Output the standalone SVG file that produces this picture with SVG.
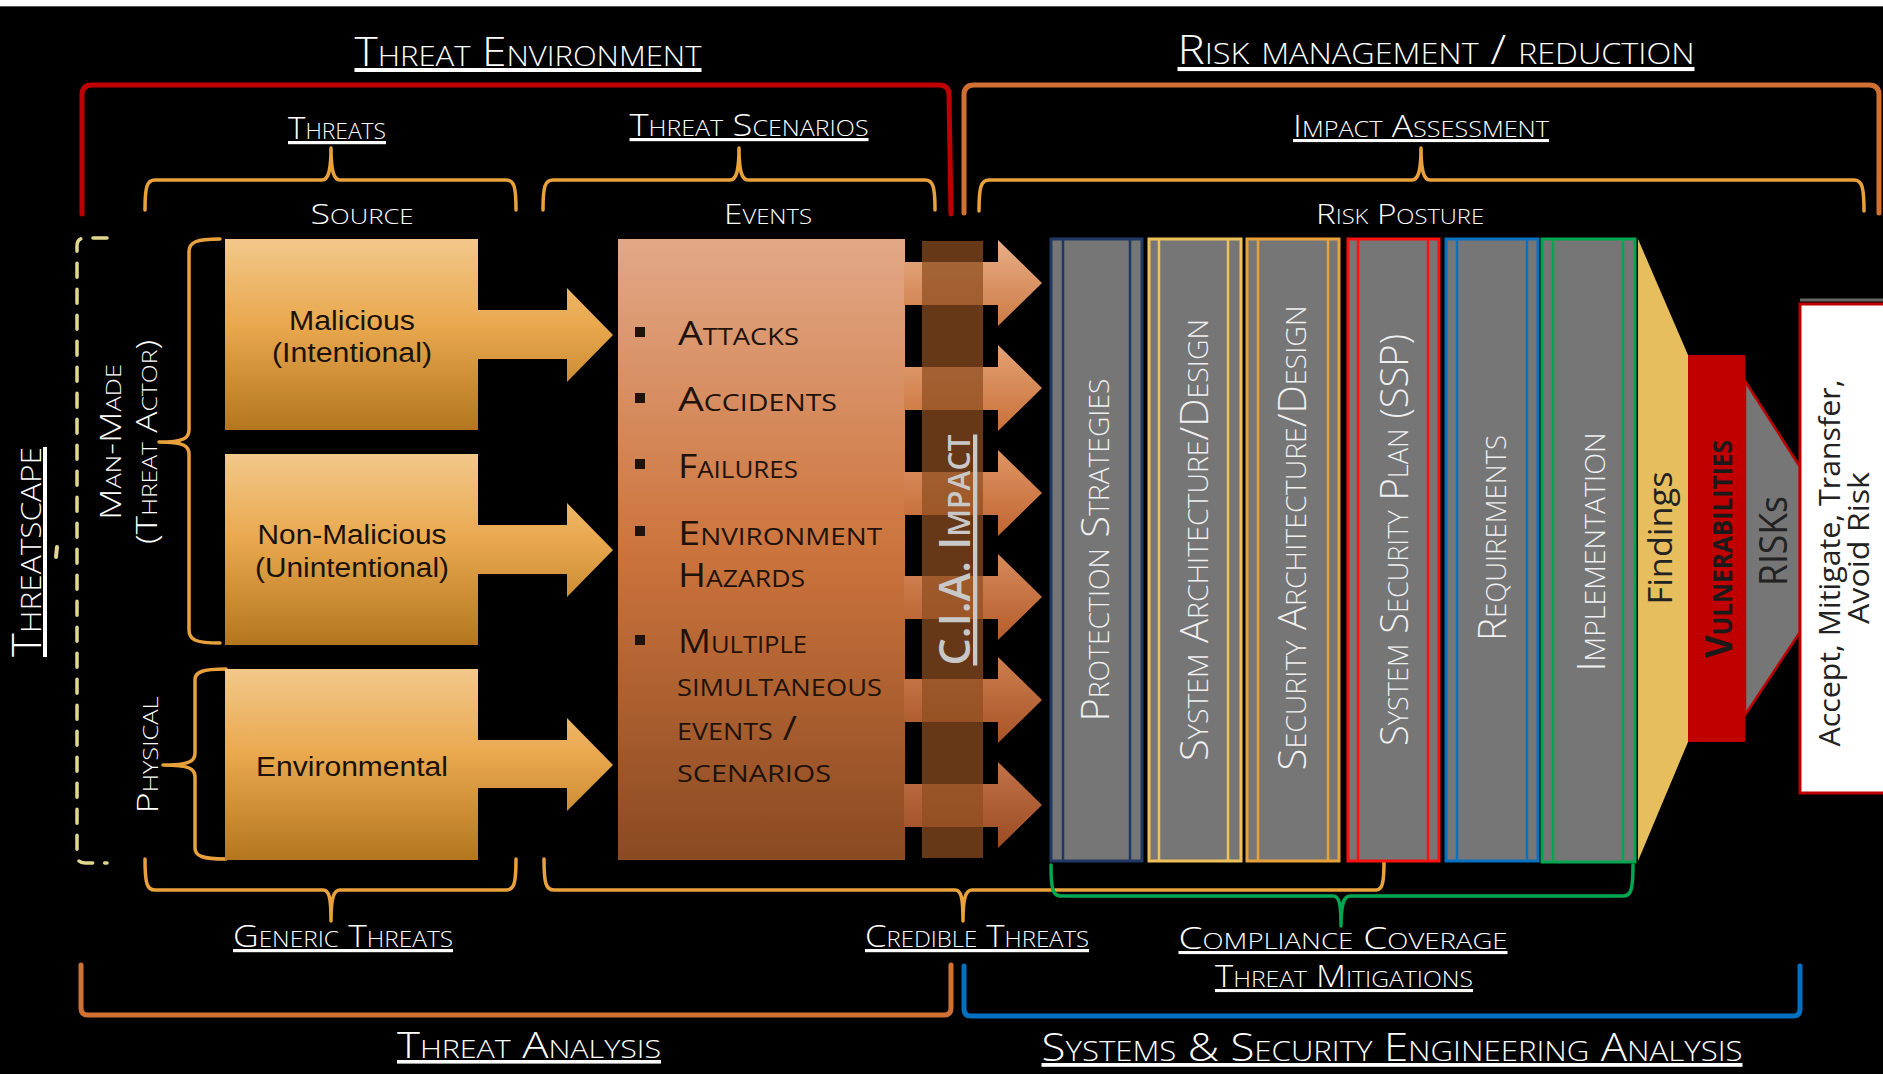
<svg xmlns="http://www.w3.org/2000/svg" width="1883" height="1074" viewBox="0 0 1883 1074">
<defs>
<style>
.hd{font-family:"Open Sans","DejaVu Sans",sans-serif;font-variant:small-caps;fill:#ffffff;font-weight:300}
.ul{text-decoration:underline}
.bx{font-family:"Liberation Sans",Arial,sans-serif;fill:#1a1208}
.ev{font-family:"Open Sans","DejaVu Sans",sans-serif;font-variant:small-caps;fill:#1e120a}
.ct{font-family:"Open Sans","DejaVu Sans",sans-serif;font-variant:small-caps;fill:#efefef;font-weight:300}
.rt{font-family:"Open Sans","DejaVu Sans",sans-serif;fill:#222}
.br{fill:none;stroke-linecap:round;stroke-linejoin:round}
.gold{stroke:#e9a23b;stroke-width:3.5}
.colr{fill:#767676;stroke-width:3}
.inl{stroke-width:2.5}
</style>
<linearGradient id="srcG" x1="0" y1="0" x2="0" y2="1">
<stop offset="0" stop-color="#f2c88a"/><stop offset="0.45" stop-color="#e9a84e"/><stop offset="1" stop-color="#b3761f"/>
</linearGradient>
<linearGradient id="srcA1" href="#srcG" gradientUnits="userSpaceOnUse" x1="0" y1="239" x2="0" y2="430"/>
<linearGradient id="srcA2" href="#srcG" gradientUnits="userSpaceOnUse" x1="0" y1="454" x2="0" y2="645"/>
<linearGradient id="srcA3" href="#srcG" gradientUnits="userSpaceOnUse" x1="0" y1="669" x2="0" y2="860"/>
<linearGradient id="evG" x1="0" y1="0" x2="0" y2="1">
<stop offset="0" stop-color="#e2a886"/><stop offset="0.5" stop-color="#cc743d"/><stop offset="1" stop-color="#8a4a22"/>
</linearGradient>
<linearGradient id="oa1" x1="0" y1="0" x2="0" y2="1"><stop offset="0" stop-color="#e8ae86"/><stop offset="1" stop-color="#cc7a45"/></linearGradient>
<linearGradient id="oa2" x1="0" y1="0" x2="0" y2="1"><stop offset="0" stop-color="#e4a274"/><stop offset="1" stop-color="#c8703a"/></linearGradient>
<linearGradient id="oa3" x1="0" y1="0" x2="0" y2="1"><stop offset="0" stop-color="#de9664"/><stop offset="1" stop-color="#c06532"/></linearGradient>
<linearGradient id="oa4" x1="0" y1="0" x2="0" y2="1"><stop offset="0" stop-color="#d68a5a"/><stop offset="1" stop-color="#b55c2c"/></linearGradient>
<linearGradient id="oa5" x1="0" y1="0" x2="0" y2="1"><stop offset="0" stop-color="#cc7e4e"/><stop offset="1" stop-color="#a85428"/></linearGradient>
<linearGradient id="oa6" x1="0" y1="0" x2="0" y2="1"><stop offset="0" stop-color="#c27248"/><stop offset="1" stop-color="#9c4c22"/></linearGradient>
</defs>

<rect x="0" y="0" width="1883" height="1074" fill="#000"/>
<rect x="0" y="0" width="1883" height="6" fill="#fff"/>
<line x1="0" y1="6.5" x2="1883" y2="6.5" stroke="#555" stroke-width="1"/>

<!-- headings -->
<g id="headings">
<text class="hd ul" x="528" y="66" font-size="40" text-anchor="middle" textLength="347" lengthAdjust="spacingAndGlyphs">Threat Environment</text>
<text class="hd ul" x="1436" y="64" font-size="41" text-anchor="middle" textLength="517" lengthAdjust="spacingAndGlyphs">Risk management / reduction</text>
<text class="hd ul" x="337" y="139" font-size="32" text-anchor="middle" textLength="98" lengthAdjust="spacingAndGlyphs">Threats</text>
<text class="hd ul" x="749" y="136" font-size="32" text-anchor="middle" textLength="239" lengthAdjust="spacingAndGlyphs">Threat Scenarios</text>
<text class="hd ul" x="1421" y="137" font-size="31" text-anchor="middle" textLength="256" lengthAdjust="spacingAndGlyphs">Impact Assessment</text>
<text class="hd" x="362" y="224" font-size="28" text-anchor="middle" textLength="103" lengthAdjust="spacingAndGlyphs">Source</text>
<text class="hd" x="768" y="224" font-size="28" text-anchor="middle" textLength="88" lengthAdjust="spacingAndGlyphs">Events</text>
<text class="hd" x="1400" y="224" font-size="28" text-anchor="middle" textLength="168" lengthAdjust="spacingAndGlyphs">Risk Posture</text>
<text class="hd ul" x="343" y="947" font-size="32" text-anchor="middle" textLength="220" lengthAdjust="spacingAndGlyphs">Generic Threats</text>
<text class="hd ul" x="977" y="947" font-size="32" text-anchor="middle" textLength="224" lengthAdjust="spacingAndGlyphs">Credible Threats</text>
<text class="hd ul" x="1343" y="949" font-size="31" text-anchor="middle" textLength="329" lengthAdjust="spacingAndGlyphs">Compliance Coverage</text>
<text class="hd ul" x="1344" y="987" font-size="31" text-anchor="middle" textLength="258" lengthAdjust="spacingAndGlyphs">Threat Mitigations</text>
<text class="hd ul" x="529" y="1058" font-size="36" text-anchor="middle" textLength="264" lengthAdjust="spacingAndGlyphs">Threat Analysis</text>
<text class="hd ul" x="1392" y="1061" font-size="38" text-anchor="middle" textLength="701" lengthAdjust="spacingAndGlyphs">Systems &amp; Security Engineering Analysis</text>
<text class="hd ul" transform="translate(41,552) rotate(-90)" x="0" y="0" font-size="40" text-anchor="middle" textLength="210" lengthAdjust="spacingAndGlyphs">Threatscape</text>
<text class="hd" transform="translate(121,442) rotate(-90)" x="0" y="0" font-size="30" text-anchor="middle" textLength="156" lengthAdjust="spacingAndGlyphs">Man-Made</text>
<text class="hd" transform="translate(157,442) rotate(-90)" x="0" y="0" font-size="30" text-anchor="middle" textLength="204" lengthAdjust="spacingAndGlyphs">(Threat Actor)</text>
<text class="hd" transform="translate(158,755) rotate(-90)" x="0" y="0" font-size="30" text-anchor="middle" textLength="117" lengthAdjust="spacingAndGlyphs">Physical</text>
</g>

<!-- brackets -->
<g id="brackets">
<path class="br" stroke="#c00000" stroke-width="5" d="M82,214 L82,95 Q82,85 92,85 L939,85 Q949,85 949,95 L951,214"/>
<path class="br" stroke="#d07032" stroke-width="5" d="M964,213 L964,95 Q964,85 974,85 L1869,85 Q1879,85 1879,95 L1879,213"/>
<path class="br gold" d="M145,210 C145,186 147,180 155,180 L322,180 C328,180 331,172 331,148 C331,172 334,180 340,180 L506,180 C514,180 516,186 516,210"/>
<path class="br gold" d="M543,210 C543,186 545,180 553,180 L730,180 C736,180 739,172 739,148 C739,172 742,180 748,180 L925,180 C933,180 935,186 935,210"/>
<path class="br gold" d="M979,211 C979,187 981,180 989,180 L1412,180 C1418,180 1421,172 1421,148 C1421,172 1424,180 1430,180 L1854,180 C1862,180 1864,187 1864,211"/>
<path class="br" stroke="#e2d78e" stroke-width="3.5" stroke-dasharray="14 12" d="M107,238 L85,238 Q77,238 77,246 L77,855 Q77,863 85,863 L107,863"/>
<path class="br" stroke="#e2d78e" stroke-width="4" d="M57,547 L56,557"/>
<path class="br gold" d="M220,239 C196,239 189,242 189,252 L189,430 C189,438 184,442 159,442 C184,442 189,446 189,454 L189,630 C189,640 196,643 220,643"/>
<path class="br gold" d="M226,669 C202,669 195,672 195,680 L195,753 C195,761 190,765 163,765 C190,765 195,769 195,777 L195,848 C195,856 202,859 226,859"/>
<path class="br gold" d="M145,859 C145,884 147,890 155,890 L323,890 C329,890 331,897 331,921 C331,897 334,890 340,890 L506,890 C514,890 516,884 516,859"/>
<path class="br gold" d="M544,859 C544,884 546,890 554,890 L955,890 C961,890 963,897 963,921 C963,897 966,890 972,890 L1376,890 C1382,890 1384,884 1384,862"/>
<path class="br" stroke="#00a650" stroke-width="3.5" d="M1051,865 C1051,890 1053,896 1061,896 L1333,896 C1339,896 1341,903 1341,926 C1341,903 1344,896 1350,896 L1623,896 C1631,896 1633,890 1633,865"/>
<path class="br" stroke="#d07032" stroke-width="5" d="M81,965 L81,1008 Q81,1015 88,1015 L944,1015 Q951,1015 951,1008 L951,965"/>
<path class="br" stroke="#0070c0" stroke-width="5" d="M964,966 L964,1009 Q964,1016 971,1016 L1793,1016 Q1800,1016 1800,1009 L1800,966"/>
</g>

<!-- source nodes -->
<g id="src-malicious">
<rect x="225" y="239" width="253" height="191" fill="url(#srcG)"/>
<text class="bx" x="352" y="330" font-size="27" text-anchor="middle" textLength="126" lengthAdjust="spacingAndGlyphs">Malicious</text>
<text class="bx" x="352" y="362" font-size="27" text-anchor="middle" textLength="160" lengthAdjust="spacingAndGlyphs">(Intentional)</text>
</g>
<g id="src-nonmalicious">
<rect x="225" y="454" width="253" height="191" fill="url(#srcG)"/>
<text class="bx" x="352" y="544" font-size="27" text-anchor="middle" textLength="189" lengthAdjust="spacingAndGlyphs">Non-Malicious</text>
<text class="bx" x="352" y="577" font-size="27" text-anchor="middle" textLength="194" lengthAdjust="spacingAndGlyphs">(Unintentional)</text>
</g>
<g id="src-environmental">
<rect x="225" y="669" width="253" height="191" fill="url(#srcG)"/>
<text class="bx" x="352" y="776" font-size="27" text-anchor="middle" textLength="192" lengthAdjust="spacingAndGlyphs">Environmental</text>
</g>

<!-- events node -->
<g id="events">
<rect x="618" y="239" width="287" height="621" fill="url(#evG)"/>
<g fill="#1e120a">
<rect x="635" y="327" width="10" height="10"/>
<rect x="635" y="393" width="10" height="10"/>
<rect x="635" y="459" width="10" height="10"/>
<rect x="635" y="526" width="10" height="10"/>
<rect x="635" y="635" width="10" height="10"/>
</g>
<text class="ev" x="678" y="345" font-size="33" textLength="121" lengthAdjust="spacingAndGlyphs">Attacks</text>
<text class="ev" x="678" y="411" font-size="33" textLength="159" lengthAdjust="spacingAndGlyphs">Accidents</text>
<text class="ev" x="678" y="478" font-size="33" textLength="120" lengthAdjust="spacingAndGlyphs">Failures</text>
<text class="ev" x="678" y="545" font-size="33" textLength="204" lengthAdjust="spacingAndGlyphs">Environment</text>
<text class="ev" x="678" y="587" font-size="33" textLength="127" lengthAdjust="spacingAndGlyphs">Hazards</text>
<text class="ev" x="678" y="653" font-size="33" textLength="129" lengthAdjust="spacingAndGlyphs">Multiple</text>
<text class="ev" x="677" y="696" font-size="33" textLength="205" lengthAdjust="spacingAndGlyphs">simultaneous</text>
<text class="ev" x="677" y="740" font-size="33" textLength="120" lengthAdjust="spacingAndGlyphs">events /</text>
<text class="ev" x="677" y="782" font-size="33" textLength="154" lengthAdjust="spacingAndGlyphs">scenarios</text>
</g>

<!-- connectors -->
<g id="connectors">
<path fill="url(#srcA1)" d="M477,310 H567 V288 L613,335 L567,382 V359 H477 Z"/>
<path fill="url(#srcA2)" d="M477,525 H567 V503 L613,550 L567,597 V574 H477 Z"/>
<path fill="url(#srcA3)" d="M477,740 H567 V718 L613,765 L567,811 V788 H477 Z"/>
<path fill="url(#oa1)" d="M904,262 H998 V240 L1042,283 L998,326 V305 H904 Z"/>
<path fill="url(#oa2)" d="M904,367 H998 V345 L1042,388 L998,431 V410 H904 Z"/>
<path fill="url(#oa3)" d="M904,472 H998 V450 L1042,493 L998,536 V515 H904 Z"/>
<path fill="url(#oa4)" d="M904,576 H998 V554 L1042,597 L998,640 V619 H904 Z"/>
<path fill="url(#oa5)" d="M904,679 H998 V657 L1042,700 L998,743 V722 H904 Z"/>
<path fill="url(#oa6)" d="M904,784 H998 V762 L1042,805 L998,848 V827 H904 Z"/>
</g>

<!-- CIA impact strip -->
<g id="cia-impact">
<rect x="922" y="241" width="61" height="617" fill="#8e4e20" fill-opacity="0.72"/>
<text transform="translate(970,550) rotate(-90)" x="0" y="0" font-family="'Open Sans','DejaVu Sans',sans-serif" font-variant="small-caps" font-weight="600" font-size="43" fill="#c8c8c8" text-decoration="underline" text-anchor="middle" textLength="231" lengthAdjust="spacingAndGlyphs">C.I.A. Impact</text>
</g>

<!-- risk posture columns -->
<g id="col-protection">
<rect class="colr" x="1051" y="239" width="91" height="622" stroke="#1f3864"/>
<path class="inl" stroke="#1f3864" d="M1063,239 V861 M1130,239 V861"/>
<text class="ct" transform="translate(1109,550) rotate(-90)" x="0" y="0" font-size="38" text-anchor="middle" textLength="343" lengthAdjust="spacingAndGlyphs">Protection Strategies</text>
</g>
<g id="col-sysarch">
<rect class="colr" x="1149" y="239" width="92" height="622" stroke="#eec15a"/>
<path class="inl" stroke="#eec15a" d="M1159,239 V861 M1228,239 V861"/>
<text class="ct" transform="translate(1208,540) rotate(-90)" x="0" y="0" font-size="38" text-anchor="middle" textLength="442" lengthAdjust="spacingAndGlyphs">System Architecture/Design</text>
</g>
<g id="col-secarch">
<rect class="colr" x="1247" y="239" width="92" height="622" stroke="#e9a23b"/>
<path class="inl" stroke="#e9a23b" d="M1258,239 V861 M1328,239 V861"/>
<text class="ct" transform="translate(1306,538) rotate(-90)" x="0" y="0" font-size="38" text-anchor="middle" textLength="465" lengthAdjust="spacingAndGlyphs">Security Architecture/Design</text>
</g>
<g id="col-ssp">
<rect class="colr" x="1348" y="239" width="91" height="622" stroke="#ff1010"/>
<path class="inl" stroke="#ff1010" d="M1358,239 V861 M1428,239 V861"/>
<text class="ct" transform="translate(1408,540) rotate(-90)" x="0" y="0" font-size="38" text-anchor="middle" textLength="412" lengthAdjust="spacingAndGlyphs">System Security Plan (SSP)</text>
</g>
<g id="col-requirements">
<rect class="colr" x="1446" y="239" width="92" height="622" stroke="#0a70c0"/>
<path class="inl" stroke="#0a70c0" d="M1457,239 V861 M1527,239 V861"/>
<text class="ct" transform="translate(1506,538) rotate(-90)" x="0" y="0" font-size="38" text-anchor="middle" textLength="206" lengthAdjust="spacingAndGlyphs">Requirements</text>
</g>
<g id="col-implementation">
<rect class="colr" x="1542" y="239" width="93" height="623" stroke="#00a650"/>
<path class="inl" stroke="#00a650" d="M1553,239 V862 M1623,239 V862"/>
<text class="ct" transform="translate(1605,552) rotate(-90)" x="0" y="0" font-size="38" text-anchor="middle" textLength="239" lengthAdjust="spacingAndGlyphs">Implementation</text>
</g>

<!-- funnel -->
<g id="findings">
<polygon points="1638,239 1688,355 1688,742 1638,861" fill="#e6be5e"/>
<text class="rt" transform="translate(1672,538) rotate(-90)" x="0" y="0" font-size="33" text-anchor="middle" textLength="133" lengthAdjust="spacingAndGlyphs">Findings</text>
</g>
<g id="vulnerabilities">
<rect x="1688" y="355" width="57" height="387" fill="#c00000"/>
<text transform="translate(1732,549) rotate(-90)" x="0" y="0" font-family="'Open Sans','DejaVu Sans',sans-serif" font-variant="small-caps" font-weight="bold" font-size="37" fill="#1a1a1a" text-anchor="middle" textLength="218" lengthAdjust="spacingAndGlyphs">Vulnerabilities</text>
</g>
<g id="risks">
<polygon points="1745,381 1800,467 1800,632 1745,715" fill="#767676" stroke="#c00000" stroke-width="2.5"/>
<text class="rt" transform="translate(1787,541) rotate(-90)" x="0" y="0" font-size="39" text-anchor="middle" textLength="90" lengthAdjust="spacingAndGlyphs">RISKs</text>
</g>
<g id="response">
<line x1="1800" y1="300" x2="1883" y2="300" stroke="#666" stroke-width="3"/>
<rect x="1800" y="304" width="95" height="489" fill="#fff" stroke="#c00000" stroke-width="3"/>
<text class="rt" transform="translate(1840,563) rotate(-90)" x="0" y="0" font-size="30" text-anchor="middle" textLength="367" lengthAdjust="spacingAndGlyphs">Accept, Mitigate, Transfer,</text>
<text class="rt" transform="translate(1869,548) rotate(-90)" x="0" y="0" font-size="30" text-anchor="middle" textLength="152" lengthAdjust="spacingAndGlyphs">Avoid Risk</text>
</g>
</svg>
